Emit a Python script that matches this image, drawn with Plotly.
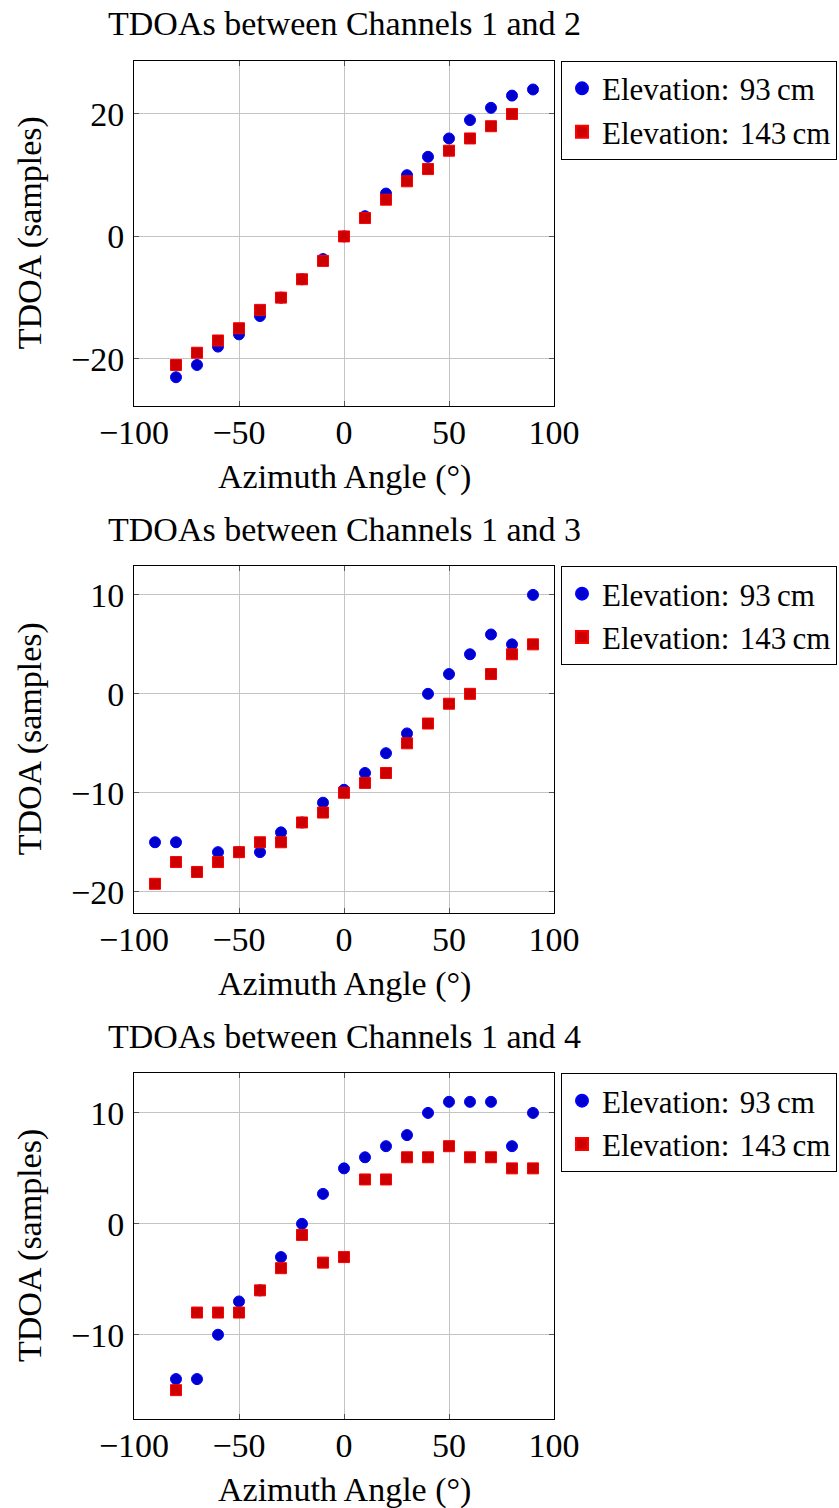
import plotly.graph_objects as go

# ---------------- data ----------------
angles_full = [-90, -80, -70, -60, -50, -40, -30, -20, -10, 0, 10, 20, 30, 40, 50, 60, 70, 80, 90]

# Channels 1 and 2
x12_93 = [-80, -70, -60, -50, -40, -30, -20, -10, 0, 10, 20, 30, 40, 50, 60, 70, 80, 90]
tdoa12_93 = [-23, -21, -18, -16, -13, -10, -7, -3.7, 0, 3.3, 7, 10, 13, 16, 19, 21, 23, 24]
x12_143 = [-80, -70, -60, -50, -40, -30, -20, -10, 0, 10, 20, 30, 40, 50, 60, 70, 80]
tdoa12_143 = [-21, -19, -17, -15, -12, -10, -7, -4, 0, 3, 6, 9, 11, 14, 16, 18, 20]

# Channels 1 and 3
x13_93 = angles_full
tdoa13_93 = [-15, -15, -18, -16, -16, -16, -14, -13, -11, -9.7, -8, -6, -4, 0, 2, 4, 6, 5, 10]
x13_143 = angles_full
tdoa13_143 = [-19.2, -17, -18, -17, -16, -15, -15, -13, -12, -10, -9, -8, -5, -3, -1, 0, 2, 4, 5]

# Channels 1 and 4
x14_93 = [-80, -70, -60, -50, -40, -30, -20, -10, 0, 10, 20, 30, 40, 50, 60, 70, 80, 90]
tdoa14_93 = [-14, -14, -10, -7, -6, -3, 0, 2.7, 5, 6, 7, 8, 10, 11, 11, 11, 7, 10]
x14_143 = [-80, -70, -60, -50, -40, -30, -20, -10, 0, 10, 20, 30, 40, 50, 60, 70, 80, 90]
tdoa14_143 = [-15, -8, -8, -8, -6, -4, -1, -3.5, -3, 4, 4, 6, 6, 7, 6, 6, 5, 5]

titles = ["TDOAs between Channels 1 and 2",
          "TDOAs between Channels 1 and 3",
          "TDOAs between Channels 1 and 4"]
series_names = ["Elevation:\u200493\u2009cm", "Elevation:\u2004143\u2009cm"]
x_tickvals = [-100, -50, 0, 50, 100]
x_ticktext = ["\u2212100", "\u221250", "0", "50", "100"]
y_tickvals = [[-20, 0, 20], [-20, -10, 0, 10], [-10, 0, 10]]
x_title = "Azimuth Angle (\u00b0)"
y_title = "TDOA (samples)"

panels = [
    (x12_93, tdoa12_93, x12_143, tdoa12_143),
    (x13_93, tdoa13_93, x13_143, tdoa13_143),
    (x14_93, tdoa14_93, x14_143, tdoa14_143),
]

# ---------------- layout geometry ----------------
W, H = 839, 1508
PL, PR = 134, 554
plot_boxes = [(60.7, 406.0), (566.0, 912.7), (1073.0, 1419.0)]
FONT = "Liberation Serif"
FS = 34
LFS = 31


def fx(px):
    return px / W


def fy(py):
    return 1 - py / H


def fmt(v):
    s = str(int(v)) if float(v).is_integer() else str(v)
    return s.replace("-", "\u2212")


fig = go.Figure()
layout = dict(
    width=W, height=H,
    margin=dict(l=0, r=0, t=0, b=0, autoexpand=False),
    paper_bgcolor="white", plot_bgcolor="white",
    font=dict(family=FONT, size=FS, color="black"),
    showlegend=True,
    annotations=[],
)

for i, (xa, ya, xb, yb) in enumerate(panels):
    n = "" if i == 0 else str(i + 1)
    top, bot = plot_boxes[i]
    leg = "legend" if i == 0 else f"legend{i + 1}"
    fig.add_trace(go.Scatter(
        x=xa, y=ya, mode="markers", name=series_names[0],
        xaxis=f"x{n}", yaxis=f"y{n}", legend=leg,
        marker=dict(symbol="circle", size=11, color="#0000cc",
                    line=dict(color="#0000ff", width=1)),
    ))
    fig.add_trace(go.Scatter(
        x=xb, y=yb, mode="markers", name=series_names[1],
        xaxis=f"x{n}", yaxis=f"y{n}", legend=leg,
        marker=dict(symbol="square", size=11, color="#cc0000",
                    line=dict(color="#ff0000", width=1)),
    ))
    allv = list(ya) + list(yb)
    lo, hi = min(allv), max(allv)
    pad = 0.1 * (hi - lo)
    axis_common = dict(
        showgrid=True, gridcolor="#c4c4c4", gridwidth=1,
        showline=True, linecolor="black", linewidth=1, mirror="ticks",
        ticks="inside", ticklen=5, tickcolor="#555555", tickwidth=1,
        zeroline=False, tickfont=dict(family=FONT, size=FS, color="black"),
    )
    layout[f"xaxis{n}"] = dict(
        domain=[fx(PL), fx(PR)], range=[-100, 100], anchor=f"y{n}",
        tickmode="array", tickvals=x_tickvals, ticktext=x_ticktext,
        ticklabelstandoff=-4, **axis_common)
    layout[f"yaxis{n}"] = dict(
        domain=[fy(bot), fy(top)], range=[lo - pad, hi + pad], anchor=f"x{n}",
        tickmode="array", tickvals=y_tickvals[i],
        ticktext=[fmt(v) for v in y_tickvals[i]],
        ticklabelstandoff=2, **axis_common)
    layout[leg] = dict(
        x=fx(561), y=fy(top), xanchor="left", yanchor="top", xref="paper", yref="paper",
        bgcolor="white", bordercolor="black", borderwidth=1,
        font=dict(family=FONT, size=LFS, color="black"),
        tracegroupgap=0, itemsizing="constant",
    )
    # titles and axis titles
    layout["annotations"].append(dict(
        text=titles[i], x=fx(344), y=fy(top - 37), xref="paper", yref="paper",
        xanchor="center", yanchor="middle", showarrow=False,
        font=dict(family=FONT, size=FS, color="black")))
    layout["annotations"].append(dict(
        text=x_title, x=fx(344), y=fy(bot + 71), xref="paper", yref="paper",
        xanchor="center", yanchor="middle", showarrow=False,
        font=dict(family=FONT, size=FS, color="black")))
    layout["annotations"].append(dict(
        text=y_title, x=fx(30), y=fy((top + bot) / 2), xref="paper", yref="paper",
        xanchor="center", yanchor="middle", showarrow=False, textangle=-90,
        font=dict(family=FONT, size=FS, color="black")))

fig.update_layout(**layout)
fig.write_html("out.html")
